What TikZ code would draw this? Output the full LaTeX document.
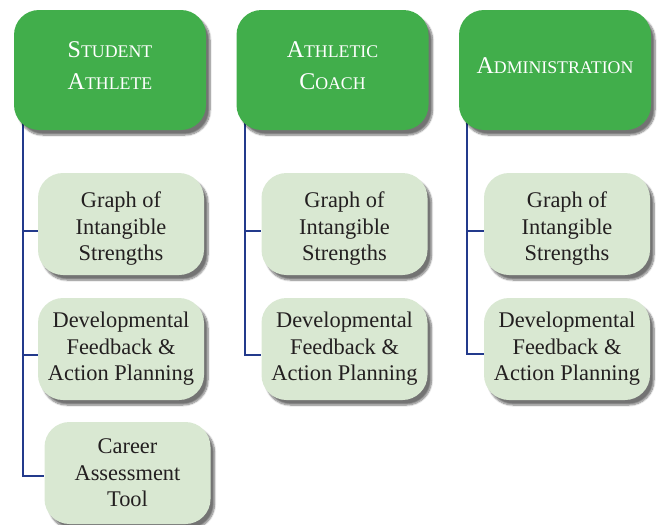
\documentclass[tikz,border=0pt]{standalone}
\usepackage{fontspec}
\setmainfont{Liberation Serif}
\usetikzlibrary{shadows.blur,backgrounds}
\definecolor{headgreen}{RGB}{65,174,75}
\definecolor{boxgreen}{RGB}{217,232,210}
\definecolor{linkblue}{RGB}{35,58,140}
\definecolor{inkgrey}{RGB}{35,31,32}
% capital followed by smaller capitals
\newcommand\hsc[2]{#1{\fontsize{17.8}{32}\selectfont #2}}
% taller first line, pushes the text down a little
\newcommand\tallstrut{\rule{0pt}{25pt}}
\begin{document}
\begin{tikzpicture}[x=1pt,y=-1pt,
        head/.style={rectangle, rounded corners=25pt, fill=headgreen, minimum width=192pt, minimum height=120pt,
            align=center, text=white, font=\fontsize{24}{32}\selectfont,
            execute at end node={\rule[-9pt]{0pt}{9pt}},
            blur shadow={shadow xshift=4pt, shadow yshift=-5pt, shadow blur steps=8, shadow opacity=55}},
        item/.style={rectangle, rounded corners=25pt, fill=boxgreen, minimum width=166pt, minimum height=102pt,
            align=center, text=inkgrey, font=\fontsize{22.4}{26.5}\selectfont,
            blur shadow={shadow xshift=4pt, shadow yshift=-5pt, shadow blur steps=8, shadow opacity=55}},
        link/.style={draw=linkblue, line width=2pt}]
        \useasboundingbox (0,0) rectangle (662,525);
        \node[head] (sa) at (110,70) {\hsc{S}{TUDENT}\\\hsc{A}{THLETE}};
        \node[head] (ac) at (332.5,70) {\hsc{A}{THLETIC}\\\hsc{C}{OACH}};
        \node[head] (ad) at (555,70) {\hsc{A}{DMINISTRATION}};

        \node[item] (sa1) at (121,224) {\tallstrut Graph of\\Intangible\\Strengths};
        \node[item] (sa2) at (121,349) {Developmental\\Feedback \&\\Action Planning};
        \node[item] (sa3) at (127.5,473) {Career\\Assessment\\Tool};
        \node[item] (ac1) at (344.5,224) {\tallstrut Graph of\\Intangible\\Strengths};
        \node[item] (ac2) at (344.5,349) {Developmental\\Feedback \&\\Action Planning};
        \node[item] (ad1) at (567,224) {\tallstrut Graph of\\Intangible\\Strengths};
        \node[item] (ad2) at (567,349) {Developmental\\Feedback \&\\Action Planning};

        \begin{scope}[on background layer]
            \draw[link] ([xshift=9pt,yshift=10pt]sa.south west) |- ([yshift=-7pt]sa1.west);
            \draw[link] ([xshift=9pt,yshift=10pt]sa.south west) |- ([yshift=-6pt]sa2.west);
            \draw[link] ([xshift=9pt,yshift=10pt]sa.south west) |- ([yshift=-3pt]sa3.west);
            \draw[link] ([xshift=9pt,yshift=10pt]ac.south west) |- ([yshift=-7pt]ac1.west);
            \draw[link] ([xshift=9pt,yshift=10pt]ac.south west) |- ([yshift=-6pt]ac2.west);
            \draw[link] ([xshift=8pt,yshift=10pt]ad.south west) |- ([yshift=-7pt]ad1.west);
            \draw[link] ([xshift=8pt,yshift=10pt]ad.south west) |- ([yshift=-5pt]ad2.west);
        \end{scope}
    \end{tikzpicture}
\end{document}
